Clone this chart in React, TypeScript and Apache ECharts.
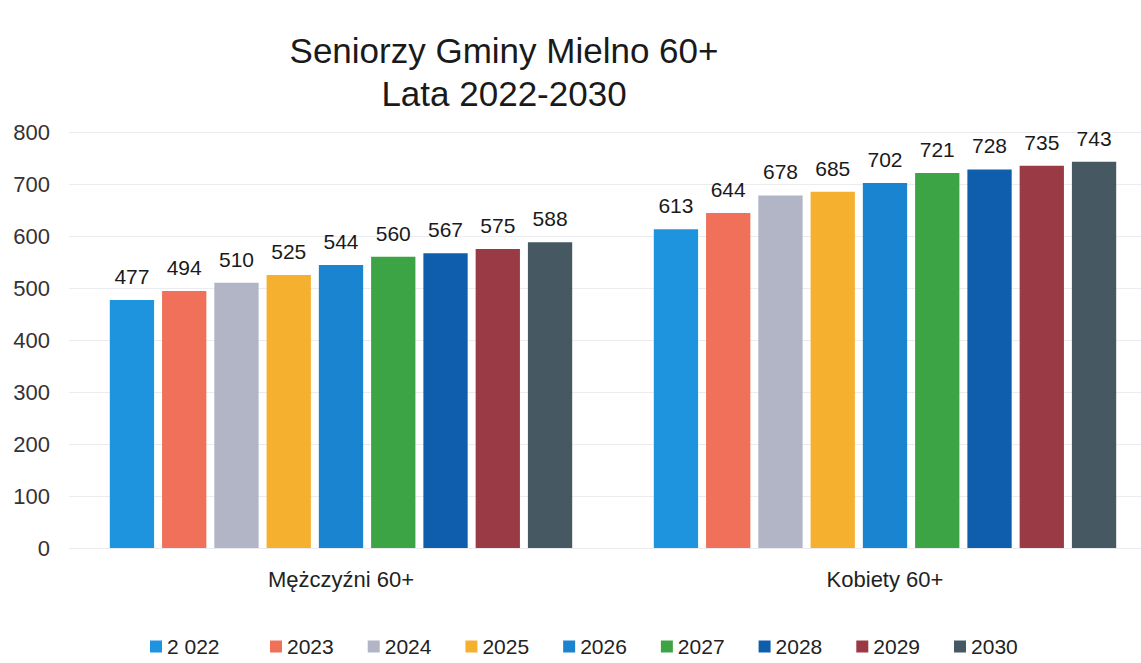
import React, { useEffect, useRef } from "react";
import * as echarts from "echarts";

const categories = ["Mężczyźni 60+", "Kobiety 60+"];
const years = ["2 022", "2023", "2024", "2025", "2026", "2027", "2028", "2029", "2030"];
const men = [477, 494, 510, 525, 544, 560, 567, 575, 588];
const women = [613, 644, 678, 685, 702, 721, 728, 735, 743];
const colors = ["#1e93de", "#f0705a", "#b1b5c6", "#f6b030", "#1a84d0", "#3da445", "#0f5eae", "#9a3a45", "#465963"];
const titleLines = ["Seniorzy Gminy Mielno 60+", "Lata 2022-2030"];

const FONT = "Liberation Sans, Arial, sans-serif";

export default function App() {
  const ref = useRef<HTMLDivElement>(null);
  useEffect(() => {
    document.body.style.margin = "0";
    document.body.style.overflow = "hidden";
    const chart = echarts.init(ref.current!, null, { renderer: "svg" });
    const legendBase = {
      top: 631,
      itemWidth: 12,
      itemHeight: 12,
      itemGap: 34,
      icon: "rect",
      textStyle: { fontSize: 21, color: "#222", fontFamily: FONT },
    };
    chart.setOption({
      animation: false,
      backgroundColor: "#ffffff",
      textStyle: { fontFamily: FONT },
      graphic: titleLines.map((t, i) => ({
        type: "text",
        x: 504,
        y: 50 + i * 43,
        style: {
          text: t,
          fontSize: 35,
          fontFamily: FONT,
          fill: "#1a1a1a",
          textAlign: "center",
          textVerticalAlign: "middle",
        },
      })),
      legend: [
        { ...legendBase, data: years.slice(0, 1), left: 145 },
        { ...legendBase, data: years.slice(1), left: 265 },
      ],
      grid: { left: 69, top: 132, width: 1088, height: 416, containLabel: false },
      xAxis: {
        type: "category",
        data: categories,
        axisLine: { show: false },
        axisTick: { show: false },
        axisLabel: { fontSize: 22, color: "#222", margin: 20, fontFamily: FONT },
      },
      yAxis: {
        type: "value",
        min: 0,
        max: 800,
        interval: 100,
        axisLine: { show: false },
        axisTick: { show: false },
        axisLabel: { fontSize: 22, color: "#333", margin: 19, fontFamily: FONT },
        splitLine: { lineStyle: { color: "#ececf0", width: 1 } },
      },
      series: years.map((y, i) => ({
        name: y,
        type: "bar",
        data: [men[i], women[i]],
        itemStyle: { color: colors[i] },
        barGap: "18%",
        barCategoryGap: "15%",
        label: {
          show: true,
          position: "top",
          distance: 13,
          fontSize: 21,
          color: "#1a1a1a",
          fontFamily: FONT,
        },
      })),
    });
    return () => chart.dispose();
  }, []);
  return (
    <div style={{ width: 1141, height: 663, overflow: "hidden" }}>
      <div ref={ref} style={{ width: 1170, height: 663 }} />
    </div>
  );
}
